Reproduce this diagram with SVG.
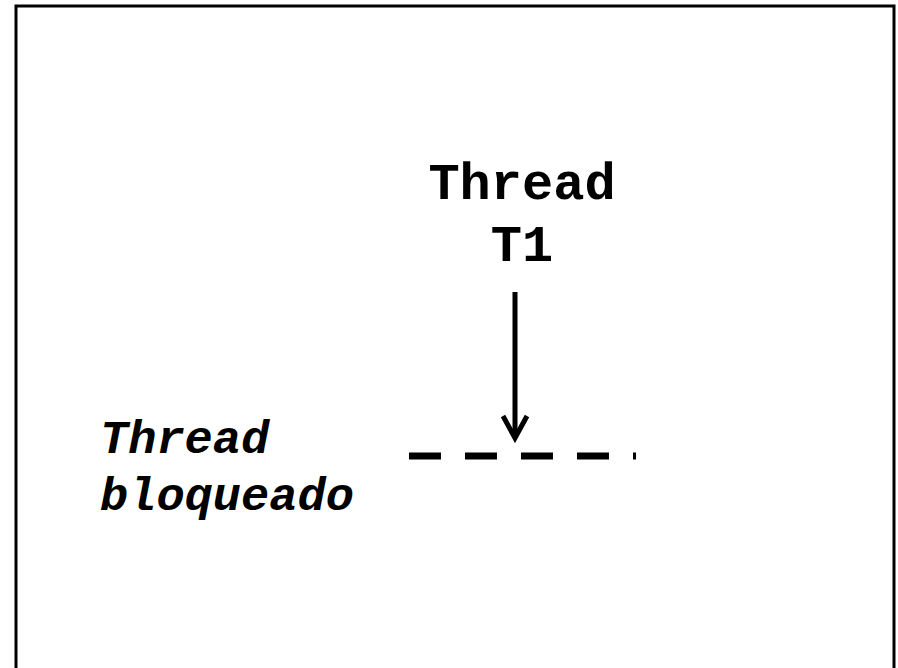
<svg xmlns="http://www.w3.org/2000/svg" width="898" height="668" viewBox="0 0 898 668">
<style>
.t{font-family:"Liberation Mono","Courier New",monospace;font-weight:bold;fill:#000}
.big{font-size:52px}
.it{font-size:47px;font-style:italic}
</style>
<rect x="0" y="0" width="898" height="668" fill="#fff"/>
<rect x="16" y="6" width="878" height="700" fill="none" stroke="#000" stroke-width="3"/>
<g id="t1">
<text class="t big" x="522" y="199" text-anchor="middle">Thread</text>
<text class="t big" x="522" y="261" text-anchor="middle">T1</text>
</g>
<g id="blocked">
<text class="t it" x="100" y="453">Thread</text>
<text class="t it" x="100" y="510">bloqueado</text>
</g>
<g id="barrier">
<line x1="409" y1="456" x2="636" y2="456" stroke="#000" stroke-width="7" stroke-dasharray="32 24"/>
</g>
<g id="connectors">
<line x1="515" y1="292" x2="515" y2="438" stroke="#000" stroke-width="5"/>
<polyline points="503,416 515,438 527,416" fill="none" stroke="#000" stroke-width="5" stroke-linejoin="miter"/>
</g>
</svg>
